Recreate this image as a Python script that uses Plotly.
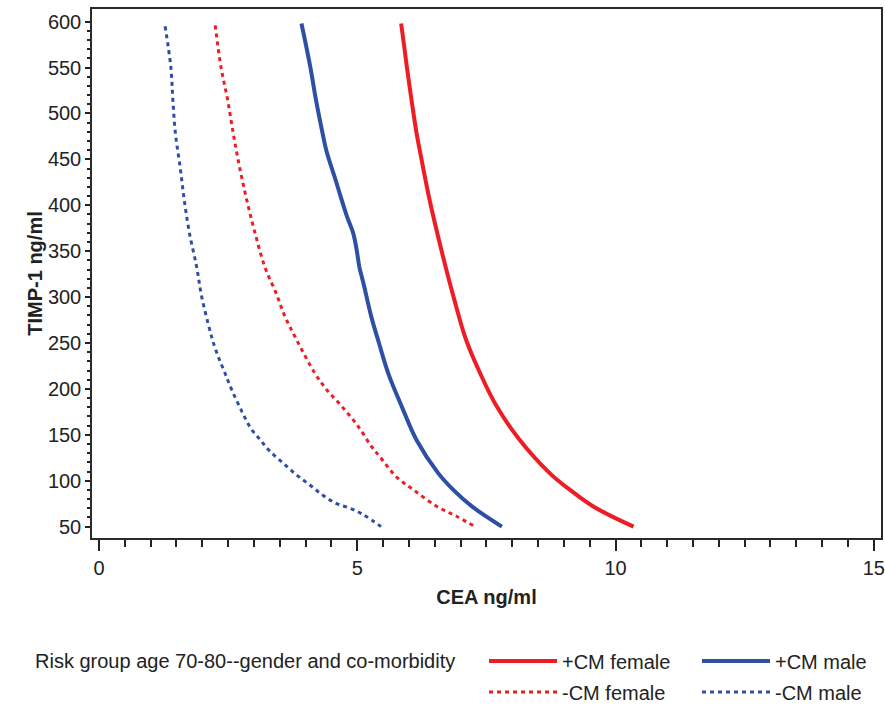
import plotly.graph_objects as go

# ---------------- data ----------------
# +CM female (red, solid)
cm_pos_female_cea = [5.85, 5.96, 6.05, 6.15, 6.21, 6.40, 6.63, 6.88, 7.11, 7.38, 7.70, 8.15, 8.73, 9.12, 9.57, 10.35]
cm_pos_female_timp = [598, 551, 515, 478, 460, 406, 351, 297, 253, 217, 181, 144, 108, 90, 72, 50]

# +CM male (blue, solid)
cm_pos_male_cea = [3.92, 4.09, 4.20, 4.33, 4.40, 4.60, 4.80, 4.92, 4.99, 5.04, 5.12, 5.27, 5.42, 5.60, 5.86, 6.15, 6.57, 6.86, 7.22, 7.80]
cm_pos_male_timp = [598, 551, 515, 478, 460, 424, 388, 370, 351, 333, 315, 279, 250, 217, 181, 144, 108, 90, 72, 50]

# -CM female (red, dotted)
cm_neg_female_cea = [2.25, 2.36, 2.49, 2.60, 2.72, 2.86, 3.02, 3.21, 3.43, 3.60, 3.83, 4.18, 4.41, 4.70, 5.02, 5.28, 5.44, 5.76, 6.09, 6.54, 6.93, 7.28]
cm_neg_female_timp = [596, 551, 515, 478, 442, 406, 370, 333, 304, 279, 253, 217, 199, 181, 159, 137, 126, 104, 90, 72, 61, 50]

# -CM male (blue, dotted)
cm_neg_male_cea = [1.28, 1.39, 1.43, 1.48, 1.57, 1.65, 1.75, 1.89, 1.99, 2.16, 2.21, 2.31, 2.44, 2.57, 2.77, 2.94, 3.13, 3.31, 3.57, 3.83, 4.09, 4.34, 4.60, 4.86, 5.12, 5.46]
cm_neg_male_timp = [595, 551, 515, 478, 442, 406, 370, 333, 300, 261, 251, 235, 217, 199, 175, 157, 144, 132, 119, 106, 95, 84, 75, 70, 63, 50]

x_ticks = [0, 5, 10, 15]
y_ticks = [50, 100, 150, 200, 250, 300, 350, 400, 450, 500, 550, 600]
x_minor = [i * 0.5 for i in range(0, 31)]
y_minor = list(range(50, 601, 10))

legend_title = "Risk group age 70-80--gender and co-morbidity"

RED = "#EE1D25"
BLUE = "#2E4FA3"
FONT = "Liberation Sans, Arial, sans-serif"
FS = 20
DOT = "4px,4px"

fig = go.Figure()
fig.add_trace(go.Scatter(x=cm_pos_female_cea, y=cm_pos_female_timp, mode="lines", name="+CM female",
                         line=dict(color=RED, width=4, shape="spline", smoothing=1.1), legend="legend"))
fig.add_trace(go.Scatter(x=cm_pos_male_cea, y=cm_pos_male_timp, mode="lines", name="+CM male",
                         line=dict(color=BLUE, width=4, shape="spline", smoothing=1.0), legend="legend"))
fig.add_trace(go.Scatter(x=cm_neg_female_cea, y=cm_neg_female_timp, mode="lines", name="-CM female",
                         line=dict(color=RED, width=3, dash=DOT, shape="spline", smoothing=1.0), legend="legend2"))
fig.add_trace(go.Scatter(x=cm_neg_male_cea, y=cm_neg_male_timp, mode="lines", name="-CM male",
                         line=dict(color=BLUE, width=3, dash=DOT, shape="spline", smoothing=1.0), legend="legend2"))

axis_common = dict(
    showline=True, linecolor="#2a2a2a", linewidth=1.5, mirror=True, automargin=False,
    showgrid=False, zeroline=False, ticks="outside", tickcolor="#222",
    tickwidth=1.5, tickfont=dict(family=FONT, size=FS, color="#222"),
)

fig.update_xaxes(
    **axis_common,
    range=[-0.1355, 15.14], tickmode="array", tickvals=x_ticks, ticklen=11,
    minor=dict(tickmode="array", tickvals=x_minor, ticks="outside", ticklen=7, tickcolor="#222", tickwidth=1.5),
    title=dict(text="<b>CEA ng/ml</b>", font=dict(family=FONT, size=FS, color="#222"), standoff=12),
)
fig.update_yaxes(
    **axis_common,
    range=[37.6, 613.8], tickmode="array", tickvals=y_ticks, ticklen=5,
    minor=dict(tickmode="array", tickvals=y_minor, ticks="outside", ticklen=3, tickcolor="#222", tickwidth=1.5),
    title=dict(text="<b>TIMP-1 ng/ml</b>", font=dict(family=FONT, size=FS, color="#222"), standoff=0),
)

legend_common = dict(
    orientation="h", xref="container", yref="container", xanchor="left", yanchor="middle",
    font=dict(family=FONT, size=FS, color="#222"), itemwidth=68,
    entrywidthmode="pixels", entrywidth=130, bgcolor="rgba(0,0,0,0)", tracegroupgap=0,
)

fig.update_layout(
    width=885, height=705,
    margin=dict(l=92, r=4, t=9, b=167, autoexpand=False),
    paper_bgcolor="white", plot_bgcolor="white",
    font=dict(family=FONT, size=FS, color="#222"),
    legend=dict(**legend_common, x=484 / 885, y=1 - 661 / 705),
    legend2=dict(**legend_common, x=484 / 885, y=1 - 692 / 705),
    annotations=[dict(text=legend_title, xref="paper", yref="paper", x=(33 - 92) / 789, y=(538 - 661) / 529,
                      xanchor="left", yanchor="middle", showarrow=False,
                      font=dict(family=FONT, size=FS, color="#222"))],
)

fig.write_html("out.html", config={"displayModeBar": False},
               post_script="document.body.style.margin='0';")
